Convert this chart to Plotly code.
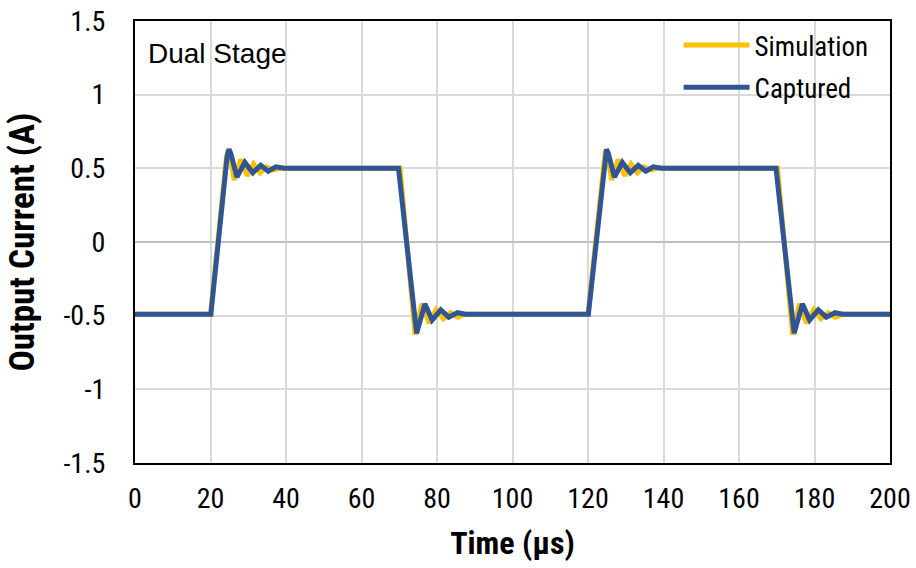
import plotly.graph_objects as go

# Time axis samples (µs) and output current (A) for each trace
sim_time = [0, 20.0, 24.2, 24.6, 25.1, 26.3, 28.0, 29.7, 31.4, 33.1, 34.8, 36.5, 38.5,
            70.2, 74.2, 76.0, 77.9, 79.8, 81.7, 83.6, 85.5, 87.5,
            120.0, 124.2, 124.6, 125.1, 126.3, 128.0, 129.7, 131.4, 133.1, 134.8, 136.5, 138.5,
            170.2, 174.2, 176.0, 177.9, 179.8, 181.7, 183.6, 185.5, 187.5, 200]
sim_current = [-0.49, -0.49, 0.57, 0.62, 0.60, 0.42, 0.56, 0.45, 0.53, 0.47, 0.51, 0.49, 0.50,
               0.50, -0.63, -0.42, -0.55, -0.46, -0.52, -0.48, -0.51, -0.49,
               -0.49, 0.57, 0.62, 0.60, 0.42, 0.56, 0.45, 0.53, 0.47, 0.51, 0.49, 0.50,
               0.50, -0.63, -0.42, -0.55, -0.46, -0.52, -0.48, -0.51, -0.49, -0.49]

cap_time = [-0.5, 20.1, 24.4, 24.9, 25.4, 27.0, 29.1, 31.2, 33.3, 35.3, 37.3, 39.5,
            69.8, 74.6, 76.8, 78.7, 81.0, 83.1, 85.4, 87.5,
            120.1, 124.4, 124.9, 125.4, 127.0, 129.1, 131.2, 133.3, 135.3, 137.3, 139.5,
            169.8, 174.6, 176.8, 178.7, 181.0, 183.1, 185.4, 187.5, 200]
cap_current = [-0.49, -0.49, 0.58, 0.63, 0.60, 0.44, 0.54, 0.47, 0.52, 0.48, 0.51, 0.50,
               0.50, -0.62, -0.42, -0.53, -0.46, -0.51, -0.48, -0.49,
               -0.49, 0.58, 0.63, 0.60, 0.44, 0.54, 0.47, 0.52, 0.48, 0.51, 0.50,
               0.50, -0.62, -0.42, -0.53, -0.46, -0.51, -0.48, -0.49, -0.49]

x_ticks = [0, 20, 40, 60, 80, 100, 120, 140, 160, 180, 200]
y_ticks = [-1.5, -1, -0.5, 0, 0.5, 1, 1.5]
y_tick_text = ["-1.5", "-1", "-0.5", "0", "0.5", "1", "1.5"]

FONT = "Roboto Condensed, Liberation Sans Narrow, Arial Narrow, Liberation Sans, sans-serif"

fig = go.Figure()
fig.add_trace(go.Scatter(x=sim_time, y=sim_current, mode="lines", name="Simulation",
                         legendgroup="a", line=dict(color="#FFC000", width=5)))
fig.add_trace(go.Scatter(x=cap_time, y=cap_current, mode="lines", name="Captured",
                         legendgroup="b", line=dict(color="#2F5597", width=5)))

fig.update_layout(
    width=916, height=568,
    margin=dict(l=135, r=26, t=21, b=105),
    paper_bgcolor="white", plot_bgcolor="white",
    font=dict(family=FONT, size=28, color="black"),
    showlegend=True,
    legend=dict(x=0.72, y=1.0, xanchor="left", yanchor="top",
                bgcolor="rgba(0,0,0,0)", font=dict(size=27),
                itemwidth=66, tracegroupgap=4, traceorder="grouped"),
    annotations=[dict(text="Dual Stage", x=0.015, y=0.965, xref="paper", yref="paper",
                      xanchor="left", yanchor="top", showarrow=False,
                      font=dict(size=28, family="Liberation Sans, Arial, sans-serif"))],
)
fig.update_xaxes(range=[0, 200], tickvals=x_ticks, showgrid=True, gridcolor="#d9d9d9",
                 gridwidth=2, zeroline=False, showline=True, linecolor="black", linewidth=2,
                 mirror=True, ticks="", ticklabelstandoff=9, automargin=False,
                 title=dict(text="<b>Time (µs)</b>", font=dict(size=32), standoff=18))
fig.update_yaxes(range=[-1.5, 1.5], tickvals=y_ticks, ticktext=y_tick_text, showgrid=True,
                 gridcolor="#d9d9d9", gridwidth=2, zeroline=True, zerolinecolor="#bfbfbf",
                 zerolinewidth=2, showline=True, linecolor="black", linewidth=2,
                 mirror=True, ticks="", ticklabelstandoff=22, automargin=False,
                 title=dict(text="<b>Output Current (A)</b>", font=dict(size=35), standoff=18))

fig.write_html("out.html")
